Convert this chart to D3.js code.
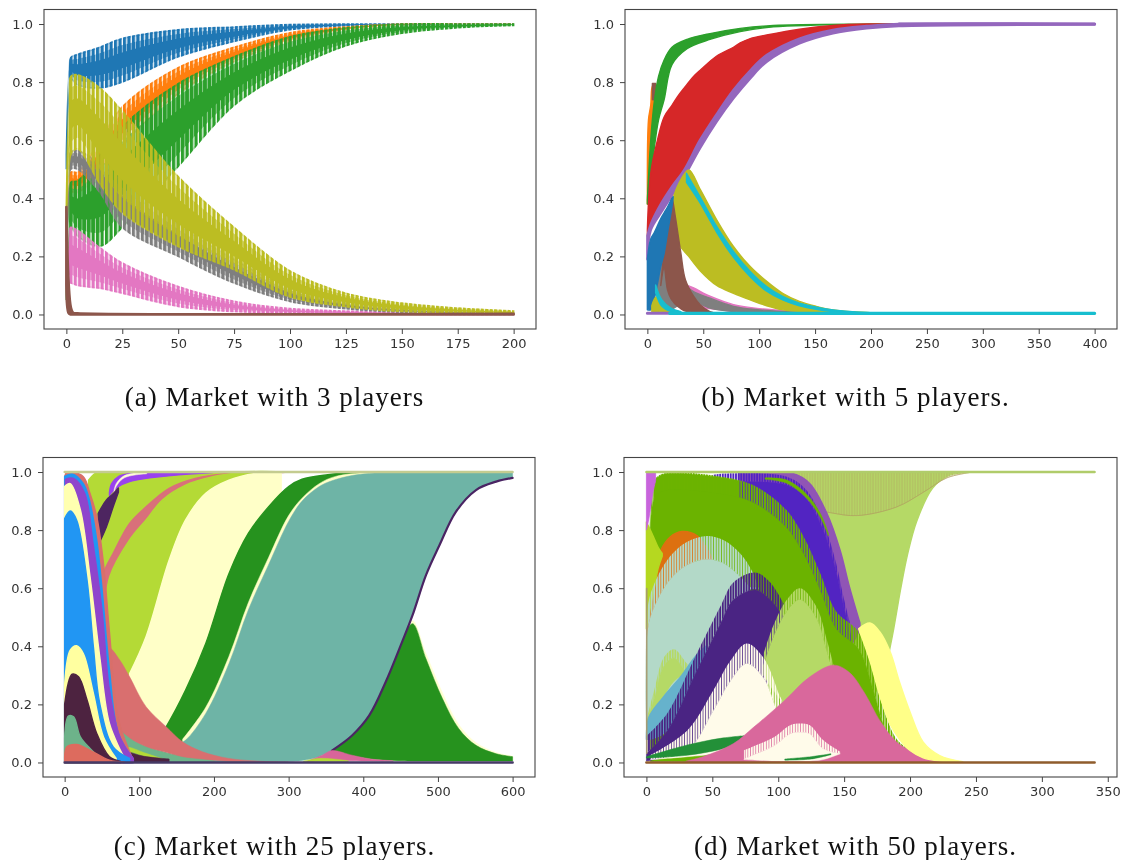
<!DOCTYPE html>
<html>
<head>
<meta charset="utf-8">
<script src="https://cdn.jsdelivr.net/npm/d3@7"></script>
<style>
  body { margin: 0; background: #fff; }
  svg { display: block; filter: blur(0.45px); }
  .tick text { font-family: "DejaVu Sans"; font-size: 13px; fill: #333; }
  .tick line { stroke: #444; stroke-width: 1; }
  .cap { font-family: "Liberation Serif"; font-size: 27px; letter-spacing: 1px; fill: #111; text-anchor: middle; }
</style>
</head>
<body>
<div id="root"></div>
<script>
var yTicks = [0, 0.2, 0.4, 0.6, 0.8, 1.0]
var aTicks = [0, 25, 50, 75, 100, 125, 150, 175, 200]
var bTicks = [0, 50, 100, 150, 200, 250, 300, 350, 400]
var cTicks = [0, 100, 200, 300, 400, 500, 600]
var dTicks = [0, 50, 100, 150, 200, 250, 300, 350]

// panel a, 3 players
var aX       = [0, 1, 2, 5, 15, 25, 50, 75, 100, 125, 150, 175, 200]
var aBlueHi  = [.55, .80, .885, .895, .92, .95, .98, .99, .998, 1, 1, 1, 1]
var aBlueLo  = [.50, .70, .81, .79, .78, .80, .887, .94, .98, .994, .998, 1, 1]
var aOrangeHi = [.33, .42, .49, .49, .60, .715, .85, .92, .97, .99, 1, 1, 1]
var aOrangeLo = [.30, .36, .42, .42, .48, .58, .76, .87, .94, .98, .998, 1, 1]
var aGreenHi = [.07, .30, .455, .46, .55, .647, .795, .887, .956, .987, 1, 1, 1]
var aGreenLo = [.05, .20, .30, .27, .235, .30, .51, .72, .84, .925, .968, .987, .995]
var aPinkHi  = [.20, .28, .30, .29, .23, .177, .096, .045, .02, .012, .006, .003, .002]
var aPinkLo  = [.10, .11, .108, .10, .09, .073, .028, .01, .004, .002, .001, 0, 0]
var aGrayHi  = [.30, .50, .56, .565, .52, .46, .31, .19, .09, .04, .02, .01, .005]
var aGrayLo  = [.25, .34, .50, .50, .42, .30, .20, .108, .045, .02, .008, .003, .001]
var aOliveHi = [.38, .70, .82, .825, .78, .70, .475, .30, .15, .073, .039, .022, .012]
var aOliveLo = [.35, .45, .55, .57, .45, .35, .234, .154, .06, .027, .01, .005, .001]
var aBrownX  = [0, 1, 2, 3, 5, 200]
var aBrownHi = [.37, .11, .025, .006, .004, .002]
var aBrownLo = [.10, .005, 0, 0, 0, 0]

// panel b, 5 players
var bGreenX  = [0, 3, 6, 10, 15, 22, 35.5, 56, 83, 112.6, 200, 400]
var bGreenHi = [.394, .60, .727, .82, .876, .92, .947, .967, .985, .995, 1, 1]
var bGreenLo = [.38, .45, .566, .67, .74, .86, .915, .947, .974, .99, 1, 1]
var bOrangeX  = [0, 1, 3, 5, 9, 14]
var bOrangeHi = [.44, .67, .72, .79, .79, .83]
var bOrangeLo = [.38, .40, .60, .66, .70, .75]
var bTipX  = [4.5, 6, 7.5]
var bTipHi = [.795, .795, .795]
var bTipLo = [.74, .74, .76]
var bRedX  = [0, 3, 9, 15, 22, 27, 33, 41.5, 47, 62, 77, 83, 92, 106.7, 136, 166, 196, 225]
var bRedHi = [.29, .486, .60, .68, .72, .75, .78, .82, .84, .89, .92, .935, .95, .962, .982, .995, 1, 1]
var bRedLo = [.27, .30, .36, .40, .44, .47, .498, .55, .60, .69, .773, .80, .84, .893, .95, .98, .993, 1]
var bPurpleX  = [0, 3, 12, 22, 33, 47, 62, 77, 92, 106.7, 136, 166, 196, 225, 400]
var bPurpleHi = [.27, .31, .38, .44, .498, .60, .69, .773, .84, .893, .95, .98, .993, 1, 1]
var bPurpleLo = [.19, .29, .35, .41, .475, .572, .664, .744, .813, .87, .933, .968, .985, .993, .998]
var bBlueX  = [0, 3, 6, 12, 15, 18, 22, 23]
var bBlueHi = [.19, .26, .28, .33, .35, .37, .40, .406]
var bBlueLo = [.016, .016, .05, .165, .21, .28, .37, .40]
var bGrayX  = [9, 13, 20, 37, 56, 77, 100, 136, 200]
var bGrayHi = [.108, .20, .20, .09, .056, .028, .016, .008, .003]
var bGrayLo = [.03, .02, .015, .05, .022, .01, .005, .002, .001]
var bPinkX  = [30, 37, 56, 77, 100, 136, 200]
var bPinkHi = [.10, .098, .063, .034, .02, .011, .004]
var bPinkLo = [.02, .02, .02, .01, .005, .002, .001]
var bBrownX  = [12, 15, 18, 21, 22, 25, 30, 34, 41.5, 47.4, 56, 65]
var bBrownHi = [.10, .22, .30, .39, .40, .337, .21, .12, .062, .033, .01, .003]
var bBrownLo = [.10, .16, .085, .055, .05, .035, .02, .012, .008, .005, .003, .002]
var bOliveX  = [23, 28, 37, 47.4, 62, 77, 92, 106.7, 121, 136, 151, 166, 196, 250, 400]
var bOliveHi = [.40, .45, .498, .43, .326, .234, .165, .114, .073, .045, .028, .016, .007, .004, .002]
var bOliveLo = [.383, .245, .20, .15, .10, .073, .05, .03, .016, .01, .005, .003, .002, .001, .001]
var bCyanX  = [35, 47, 62, 77, 92, 106.7, 121, 136, 166, 200, 260]
var bCyanHi = [.486, .406, .303, .217, .148, .096, .062, .039, .016, .006, .003]
var bCyanLo = [.455, .385, .283, .197, .13, .08, .05, .03, .01, .003, .002]
var bSmallOliveX  = [4, 8, 15, 24]
var bSmallOliveHi = [.03, .06, .035, .012]
var bSmallOliveLo = [.01, .01, .008, .006]
var bSmallCyanX  = [7.4, 13, 21, 30]
var bSmallCyanHi = [.102, .05, .022, .01]
var bSmallCyanLo = [.075, .028, .01, .005]
var bTopX   = [225, 400]
var bTopHi  = [1, 1]
var bBaseX  = [0, 20, 400]
var bBaseHi = [.004, .004, .004]

// panel c, 25 players
var cLime2X  = [32, 41, 50, 60, 87, 120, 200, 300]
var cLime2Hi = [.972, .995, 1, 1, 1, 1, 1, 1]
var cLime2Lo = [.70, .65, .60, .60, .75, .90, .99, 1]
var cRoseX  = [45, 52, 65, 87, 109, 140, 175, 220, 300]
var cRoseHi = [.50, .65, .72, .823, .88, .944, .978, .995, 1]
var cRoseLo = [.40, .50, .60, .76, .83, .90, .95, .98, 1]
var cLimeX  = [52, 54, 60.6, 87, 109, 131, 162, 189, 220, 270]
var cLimeHi = [.40, .525, .64, .766, .835, .904, .955, .978, .993, 1]
var cLimeLo = [.35, .35, .38, .30, .43, .60, .80, .90, .96, .995]
var cVioletX  = [60, 63, 72, 87, 109, 153, 198]
var cVioletHi = [.93, .96, .984, .995, .998, 1, 1]
var cVioletLo = [.92, .93, .95, .967, .978, .99, .998]
var cPlumTopX  = [45, 56, 65, 72]
var cPlumTopHi = [.858, .904, .925, .945]
var cPlumTopLo = [.749, .812, .88, .93]
var cWireX  = [66, 69, 78, 90, 110]
var cWireHi = [.935, .96, .985, .995, .999]
var cWireLo = [.925, .95, .977, .988, .994]
var cCreamX  = [87, 109, 140, 162, 189, 220, 255, 290]
var cCreamHi = [.306, .433, .697, .835, .927, .972, .995, 1]
var cCreamLo = [.29, .19, .12, .07, .15, .30, .60, .90]
var cGreenX  = [130, 136, 162, 189, 220, 246, 273, 300, 318, 350, 400, 450]
var cGreenHi = [.10, .123, .249, .41, .65, .789, .88, .95, .975, .99, .999, 1]
var cGreenLo = [.08, .07, .07, .169, .34, .525, .674, .82, .89, .955, .99, 1]
var cStripX  = [158, 189, 220, 246, 273, 300, 318, 341, 363, 408, 475]
var cStripHi = [.08, .19, .365, .55, .705, .85, .91, .96, .985, .998, 1]
var cStripLo = [.05, .15, .32, .50, .66, .80, .88, .94, .97, .99, 1]
var cTealX  = [150, 162, 189, 220, 246, 273, 300, 318, 341, 358, 385, 408, 430, 452, 466, 484, 502, 524, 551, 578, 600]
var cTealHi = [.06, .077, .169, .34, .525, .68, .83, .90, .95, .97, .988, .995, .998, 1, 1, 1, 1, 1, 1, 1, 1]
var cTealLo = [.002, .002, .002, .002, .002, .003, .004, .007, .02, .041, .093, .162, .277, .415, .507, .645, .748, .863, .938, .967, .98]
var cHumpX  = [358, 385, 408, 430, 452, 466, 484, 506, 528, 551, 578, 600]
var cHumpHi = [.045, .12, .20, .30, .42, .478, .357, .22, .116, .059, .03, .02]
var cHumpLo = [.04, .022, .013, .008, .006, .005, .005, .005, .005, .005, .005, .005]
var cFringeHi = [.045, .12, .20, .30, .42, .488, .375, .24, .13, .068, .034, .022]
var cSliverPinkX  = [325, 345, 358, 385, 410, 440]
var cSliverPinkHi = [.005, .025, .041, .025, .012, .006]
var cSliverPinkLo = [.003, .006, .006, .006, .005, .004]
var cSliverLimeX  = [320, 340, 360, 380]
var cSliverLimeHi = [.005, .014, .012, .006]
var cSliverLimeLo = [.003, .003, .003, .003]
var cUnderX  = [60, 72, 87, 100, 120, 150, 200]
var cUnderHi = [.20, .14, .09, .065, .045, .025, .008]
var cUnderLo = [.002, .002, .002, .002, .002, .002, .002]
var cUnderLimeX  = [75, 90, 105, 130]
var cUnderLimeHi = [.055, .05, .035, .014]
var cUnderLimeLo = [.04, .035, .022, .01]
var cUnderPlumX  = [70, 83, 105, 140]
var cUnderPlumHi = [.04, .038, .022, .012]
var cUnderPlumLo = [.002, .002, .002, .002]
var cRoseHumpX  = [58, 60.6, 74, 87, 109, 136, 158, 184.5, 220, 264, 300]
var cRoseHumpHi = [.36, .393, .352, .295, .192, .123, .071, .037, .014, .004, .001]
var cRoseHumpLo = [.30, .30, .12, .085, .055, .035, .02, .012, .004, .001, .001]
var cFan1X  = [0, 3, 10, 25, 34, 43, 52, 60, 72, 90]
var cFan1Hi = [.985, 1, 1, .984, .926, .846, .685, .45, .15, .02]
var cFan2X  = [0, 10, 25, 32, 43, 50, 60, 72, 92]
var cFan2Hi = [.985, .993, .96, .915, .766, .60, .32, .10, .012]
var cFan3X  = [1, 12, 27, 38, 50, 60, 74, 92]
var cFan3Hi = [.975, .978, .926, .754, .525, .25, .088, .014]
var cFan4X  = [0, 7.5, 21, 34, 47, 60, 78]
var cFan4Hi = [.95, .96, .87, .64, .364, .134, .025]
var cFan5X  = [0, 7.5, 16, 30, 38.5, 47, 65, 87]
var cFan5Hi = [.84, .866, .835, .628, .398, .203, .054, .014]
var cFan6X  = [0, 7.5, 16, 25, 38.5, 52, 69]
var cFan6Hi = [.27, .387, .402, .375, .238, .088, .014]
var cFan7X  = [0, 10, 18.6, 30, 43, 60, 75]
var cFan7Hi = [.20, .304, .295, .215, .10, .02, .004]
var cFan8X  = [0, 5, 12, 21, 34, 50]
var cFan8Hi = [.088, .16, .157, .088, .048, .01]
var cFan9X  = [0, 3, 16, 34, 60, 80]
var cFan9Hi = [.02, .054, .062, .042, .008, .002]
var cLineX  = [0, 600]

// panel d, 50 players
var dBigX  = [90, 130, 165, 180, 185, 187.6, 193, 198, 205, 217, 228, 240, 260, 340]
var dBigHi = [1, 1, 1, 1, 1, 1, 1, 1, 1, 1, 1, 1, 1, 1]
var dBigLo = [.20, .20, .20, .30, .40, .46, .60, .714, .83, .944, .985, .998, .999, .999]
var dTanX  = [100, 139.5, 160, 190, 210, 228, 245]
var dTanHi = [1, 1, 1, 1, 1, 1, 1]
var dTanLo = [.90, .86, .85, .88, .93, .98, .998]
var dOrchidX  = [70, 111, 124, 137, 147, 154, 162]
var dOrchidHi = [.998, .995, .96, .857, .73, .605, .48]
var dOrchidLo = [.90, .80, .60, .50, .40, .40, .46]
var dIndigoX  = [50, 60, 106, 121, 134, 144, 149, 155]
var dIndigoHi = [.99, .995, .985, .94, .83, .685, .58, .47]
var dIndigoLo = [.90, .70, .70, .60, .50, .45, .40, .40]
var dThinX  = [90, 106, 121, 132, 138]
var dThinHi = [.98, .973, .926, .857, .79]
var dThinLo = [.975, .962, .912, .843, .78]
var dLeafBaseX  = [6, 13, 50, 70]
var dLeafBaseHi = [.97, .992, .985, .97]
var dLeafBaseLo = [.85, .85, .85, .85]
var dLeafX  = [3, 6, 13, 56, 81, 106, 119, 132, 144, 161, 172, 180, 190, 203, 220]
var dLeafHi = [.60, .97, .995, .985, .955, .87, .78, .65, .52, .45, .31, .185, .08, .036, .01]
var dLeafLo = [.003, .003, .003, .003, .003, .003, .003, .003, .003, .003, .003, .003, .003, .003, .003]
var dOrangeX  = [1, 4.5, 10.8, 18, 27, 38.5, 50]
var dOrangeHi = [.45, .64, .73, .776, .795, .78, .70]
var dOrangeLo = [.40, .40, .50, .60, .60, .70, .60]
var dLimeX  = [0, 3, 6, 9, 12]
var dLimeHi = [.828, .80, .77, .74, .72]
var dLimeLo = [.46, .535, .60, .67, .71]
var dPaleX  = [0, 1, 6, 18, 31, 46, 58.7, 71, 80, 85]
var dPaleHi = [.20, .535, .615, .71, .76, .78, .765, .72, .66, .60]
var dPaleLo = [.10, .12, .15, .20, .25, .35, .45, .55, .60, .60]
var dKnobX  = [0, 6, 13, 21, 31, 37]
var dKnobHi = [.145, .25, .36, .39, .34, .32]
var dKnobLo = [.14, .17, .226, .28, .31, .32]
var dSkyX  = [0, 2, 13, 26, 37, 45]
var dSkyHi = [.09, .157, .226, .295, .364, .40]
var dSkyLo = [.08, .08, .10, .17, .30, .35]
var dPlumX  = [0, 16, 37, 56, 66, 82.6, 94, 104]
var dPlumHi = [.09, .17, .364, .536, .62, .654, .62, .548]
var dPlumLo = [.005, .02, .05, .10, .15, .20, .30, .50]
var dHillX  = [89, 96, 106.5, 116.6, 129, 137, 142]
var dHillHi = [.375, .468, .56, .60, .536, .42, .335]
var dHillLo = [.30, .25, .20, .20, .25, .30, .30]
var dIvoryX  = [3, 31, 51, 63.7, 76, 89, 101.5, 104]
var dIvoryHi = [.025, .11, .25, .35, .41, .36, .226, .205]
var dIvoryLo = [.01, .02, .03, .05, .05, .06, .10, .20]
var dSeaX  = [0, 31, 56, 74]
var dSeaHi = [.02, .06, .083, .092]
var dSeaLo = [.015, .025, .045, .07]
var dRoseX  = [30, 43, 66, 81, 104, 124, 142, 154, 165, 177.8, 190, 203, 220, 240]
var dRoseHi = [.005, .02, .065, .12, .21, .295, .335, .31, .243, .139, .07, .036, .01, .001]
var dRoseLo = [.001, .001, .001, .001, .001, .001, .001, .001, .001, .001, .001, .001, .001, .001]
var dIvory2X  = [74, 97, 109, 116.6, 124, 134, 147]
var dIvory2Hi = [.042, .088, .128, .134, .128, .077, .037]
var dIvory2Lo = [.01, .005, .005, .005, .005, .01, .03]
var dSliverX  = [105, 125, 140]
var dSliverHi = [.012, .02, .03]
var dSliverLo = [.008, .012, .027]
var dYellowX  = [161, 169.6, 177, 185, 192, 200, 210, 222.5, 240]
var dYellowHi = [.46, .48, .45, .38, .277, .174, .07, .024, .003]
var dYellowLo = [.46, .35, .23, .13, .08, .041, .016, .005, .002]
var dMagentaX  = [0, 1.5, 3, 5, 7]
var dMagentaHi = [1, 1, 1, 1, 1]
var dMagentaLo = [.80, .83, .87, .93, .97]
var dLineX  = [0, 340]

// [color, x, hi, lo, extras]  lo may be a number for a flat floor
var panels = [
  { id: "a", left: 44, right: 536, top: 9.5, bottom: 329, xDomain: [-10, 210], xTicks: aTicks, teeth: 2,
    caption: "(a) Market with 3 players", capX: 274.5, capY: 406,
    series: [
      ["#1f77b4", aX, aBlueHi, aBlueLo, {teeth: true}],
      ["#ff7f0e", aX, aOrangeHi, aOrangeLo, {teeth: true}],
      ["#2ca02c", aX, aGreenHi, aGreenLo, {teeth: true}],
      ["#e377c2", aX, aPinkHi, aPinkLo, {teeth: true}],
      ["#7f7f7f", aX, aGrayHi, aGrayLo, {teeth: true}],
      ["#bcbd22", aX, aOliveHi, aOliveLo, {teeth: true}],
      ["#8c564b", aBrownX, aBrownHi, aBrownLo, {sw: 2.6}]
    ] },
  { id: "b", left: 625, right: 1117, top: 9.5, bottom: 329, xDomain: [-20, 420], xTicks: bTicks, teeth: 2,
    caption: "(b) Market with 5 players.", capX: 855.5, capY: 406,
    series: [
      ["#e377c2", bPinkX, bPinkHi, bPinkLo],
      ["#7f7f7f", bGrayX, bGrayHi, bGrayLo],
      ["#ff7f0e", bOrangeX, bOrangeHi, bOrangeLo],
      ["#8c564b", bTipX, bTipHi, bTipLo],
      ["#2ca02c", bGreenX, bGreenHi, bGreenLo],
      ["#d62728", bRedX, bRedHi, bRedLo],
      ["#9467bd", bPurpleX, bPurpleHi, bPurpleLo, {sw: 2.4}],
      ["#bcbd22", bOliveX, bOliveHi, bOliveLo],
      ["#17becf", bCyanX, bCyanHi, bCyanLo],
      ["#8c564b", bBrownX, bBrownHi, bBrownLo],
      ["#1f77b4", bBlueX, bBlueHi, bBlueLo],
      ["#bcbd22", bSmallOliveX, bSmallOliveHi, bSmallOliveLo],
      ["#17becf", bSmallCyanX, bSmallCyanHi, bSmallCyanLo],
      ["#9467bd", bTopX, bTopHi, bTopHi, {sw: 3}],
      ["#9467bd", bBaseX.slice(0, 2), bBaseHi.slice(0, 2), bBaseHi.slice(0, 2), {sw: 3}],
      ["#17becf", bBaseX.slice(1), bBaseHi.slice(1), bBaseHi.slice(1), {sw: 3.2}]
    ] },
  { id: "c", left: 43, right: 535, top: 457.5, bottom: 777, xDomain: [-29, 630], xTicks: cTicks, teeth: 2,
    caption: "(c) Market with 25 players.", capX: 274.5, capY: 855,
    series: [
      ["#b4da36", cLime2X, cLime2Hi, cLime2Lo],
      ["#d9707a", cRoseX, cRoseHi, cRoseLo],
      ["#b4da36", cLimeX, cLimeHi, cLimeLo],
      ["#9a42ee", cVioletX, cVioletHi, cVioletLo],
      ["#fffdd8", cWireX, cWireHi, cWireLo, {sw: .5}],
      ["#4d2560", cPlumTopX, cPlumTopHi, cPlumTopLo],
      ["#ffffc8", cCreamX, cCreamHi, cCreamLo],
      ["#26921e", cGreenX, cGreenHi, cGreenLo],
      ["#ffffc8", cStripX, cStripHi, cStripLo, {sw: .5}],
      ["#ffffd0", cHumpX, cFringeHi, cHumpLo, {sw: .5}],
      ["#26921e", cHumpX, cHumpHi, cHumpLo, {sw: .5}],
      ["#6eb4a6", cTealX, cTealHi, cTealLo, {sw: .5}],
      ["#4a2463", cTealX.slice(9), cTealLo.slice(9), cTealLo.slice(9), {sw: 2.2}],
      ["#d9659a", cSliverPinkX, cSliverPinkHi, cSliverPinkLo, {sw: .5}],
      ["#b4da36", cSliverLimeX, cSliverLimeHi, cSliverLimeLo, {sw: .5}],
      ["#6eb48a", cUnderX, cUnderHi, cUnderLo],
      ["#b4da36", cUnderLimeX, cUnderLimeHi, cUnderLimeLo, {sw: .5}],
      ["#4d2340", cUnderPlumX, cUnderPlumHi, cUnderPlumLo, {sw: .5}],
      ["#d96f6f", cRoseHumpX, cRoseHumpHi, cRoseHumpLo, {sw: .5}],
      ["#d96f6a", cFan1X, cFan1Hi, 0],
      ["#2196f3", cFan2X, cFan2Hi, 0],
      ["#8f45cc", cFan3X, cFan3Hi, 0],
      ["#ffffb0", cFan4X, cFan4Hi, 0],
      ["#2196f3", cFan5X, cFan5Hi, 0],
      ["#ffffa0", cFan6X, cFan6Hi, 0],
      ["#4d2340", cFan7X, cFan7Hi, 0],
      ["#6db38a", cFan8X, cFan8Hi, 0],
      ["#dd6b5e", cFan9X, cFan9Hi, 0],
      ["#c4cc90", cLineX, [1, 1], [1, 1], {sw: 2.4}],
      ["#463a66", cLineX, [0, 0], [0, 0], {sw: 2.6}]
    ] },
  { id: "d", left: 624, right: 1117, top: 457.5, bottom: 777, xDomain: [-17, 357], xTicks: dTicks, teeth: 2,
    caption: "(d) Market with 50 players.", capX: 855.5, capY: 855,
    series: [
      ["#b5d966", dBigX, dBigHi, dBigLo],
      ["#b0a060", dTanX, dTanHi, dTanLo, {fringe: 1, op: .35}],
      ["#9055b5", dOrchidX, dOrchidHi, dOrchidLo],
      ["#5224c2", dIndigoX, dIndigoHi, dIndigoLo, {fringe: .03}],
      ["#6bb300", dThinX, dThinHi, dThinLo, {sw: .5}],
      ["#6bb300", dLeafBaseX, dLeafBaseHi, dLeafBaseLo, {sw: .5}],
      ["#6bb300", dLeafX, dLeafHi, dLeafLo, {fringe: .06}],
      ["#dd7010", dOrangeX, dOrangeHi, dOrangeLo],
      ["#b5d820", dLimeX, dLimeHi, dLimeLo],
      ["#b3d9c8", dPaleX, dPaleHi, dPaleLo, {fringe: .08}],
      ["#b5d966", dKnobX, dKnobHi, dKnobLo, {fringe: .03}],
      ["#66b2cc", dSkyX, dSkyHi, dSkyLo],
      ["#4a2483", dPlumX, dPlumHi, dPlumLo, {fringe: .06}],
      ["#b5d966", dHillX, dHillHi, dHillLo, {fringe: .04}],
      ["#fffbea", dIvoryX, dIvoryHi, dIvoryLo, {fringe: .07}],
      ["#239038", dSeaX, dSeaHi, dSeaLo, {sw: .5}],
      ["#d9689c", dRoseX, dRoseHi, dRoseLo, {sw: .5}],
      ["#fffbea", dIvory2X, dIvory2Hi, dIvory2Lo, {sw: .5, fringe: .03}],
      ["#239038", dSliverX, dSliverHi, dSliverLo, {sw: .5}],
      ["#ffff88", dYellowX, dYellowHi, dYellowLo],
      ["#c864dc", dMagentaX, dMagentaHi, dMagentaLo, {sw: .8}],
      ["#a89a70", [0, .5], [.6, .6], [.03, .03], {sw: .8}],
      ["#b0cc6a", dLineX, [1, 1], [1, 1], {sw: 2.4}],
      ["#8f5c2c", dLineX, [0, 0], [0, 0], {sw: 2.6}]
    ] }
]

var svg = d3.select("#root").append("svg").attr("width", 1121).attr("height", 860)
var defs = svg.append("defs")
var patternCount = 0
var smooth = d3.curveCatmullRom.alpha(.5)

// vertical stripes at the step of the oscillation, this is what gives the saw teeth
function stripes(color, period, w, x0) {
  var id = "st" + (patternCount++)
  var p = defs.append("pattern").attr("id", id)
    .attr("patternUnits", "userSpaceOnUse")
    .attr("x", x0 - w / 2).attr("y", 0)
    .attr("width", period).attr("height", 8)
  p.append("rect").attr("width", w).attr("height", 8).attr("fill", color)
  return "url(#" + id + ")"
}

panels.forEach(function(p) {
  var x = d3.scaleLinear().domain(p.xDomain).range([p.left, p.right])
  var y = d3.scaleLinear().domain([-0.05, 1.05]).range([p.bottom, p.top])
  var g = svg.append("g")
  var step = x(p.teeth) - x(0)

  p.series.forEach(function(s) {
    var color = s[0], xs = s[1], hi = s[2], lo = s[3], o = s[4] || {}
    var loAt = function(i) { return typeof lo === "number" ? lo : lo[i] }
    // area between two fractions of the band, 0 = lower edge, 1 = upper edge
    var part = function(f0, f1) {
      return d3.area()
        .x(function(d, i) { return x(xs[i]) })
        .y0(function(d, i) { return y(loAt(i) + (hi[i] - loAt(i)) * f0) })
        .y1(function(d, i) { return y(loAt(i) + (hi[i] - loAt(i)) * f1) })
        .curve(smooth)(xs)
    }
    if (o.teeth) {
      var outer = stripes(color, step, 3.2, x(0))
      g.append("path").attr("d", part(0, 1)).attr("fill", outer)
        .attr("stroke", outer).attr("stroke-width", 1.6)
      g.append("path").attr("d", part(.15, .85)).attr("fill", stripes(color, step, 3.8, x(0)))
      g.append("path").attr("d", part(.32, .68)).attr("fill", color)
    } else if (o.fringe) {
      var hatch = stripes(color, step, step * .72, x(0))
      var top = d3.area()
        .x(function(d, i) { return x(xs[i]) })
        .y0(function(d, i) { return y(Math.max(loAt(i), hi[i] - o.fringe)) })
        .y1(function(d, i) { return y(hi[i]) })
        .curve(smooth)(xs)
      var rest = d3.area()
        .x(function(d, i) { return x(xs[i]) })
        .y0(function(d, i) { return y(loAt(i)) })
        .y1(function(d, i) { return y(Math.max(loAt(i), hi[i] - o.fringe)) })
        .curve(smooth)(xs)
      g.append("path").attr("d", top).attr("fill", hatch).attr("opacity", o.op || 1)
      g.append("path").attr("d", rest).attr("fill", color).attr("stroke", color).attr("stroke-width", .5)
    } else {
      g.append("path").attr("d", part(0, 1)).attr("fill", color)
        .attr("stroke", color).attr("stroke-width", o.sw === undefined ? 1.4 : o.sw)
        .attr("stroke-linejoin", "round")
    }
  })

  g.append("rect").attr("x", p.left).attr("y", p.top)
    .attr("width", p.right - p.left).attr("height", p.bottom - p.top)
    .attr("fill", "none").attr("stroke", "#444").attr("stroke-width", 1.1)

  svg.append("g").attr("transform", "translate(0," + p.bottom + ")")
    .call(d3.axisBottom(x).tickValues(p.xTicks).tickSize(5).tickPadding(5).tickFormat(d3.format("d")))
    .call(function(a) { a.select(".domain").remove() })
  svg.append("g").attr("transform", "translate(" + p.left + ",0)")
    .call(d3.axisLeft(y).tickValues(yTicks).tickSize(5).tickPadding(6).tickFormat(d3.format(".1f")))
    .call(function(a) { a.select(".domain").remove() })

  svg.append("text").attr("class", "cap").attr("x", p.capX).attr("y", p.capY).text(p.caption)
})
</script>
</body>
</html>
